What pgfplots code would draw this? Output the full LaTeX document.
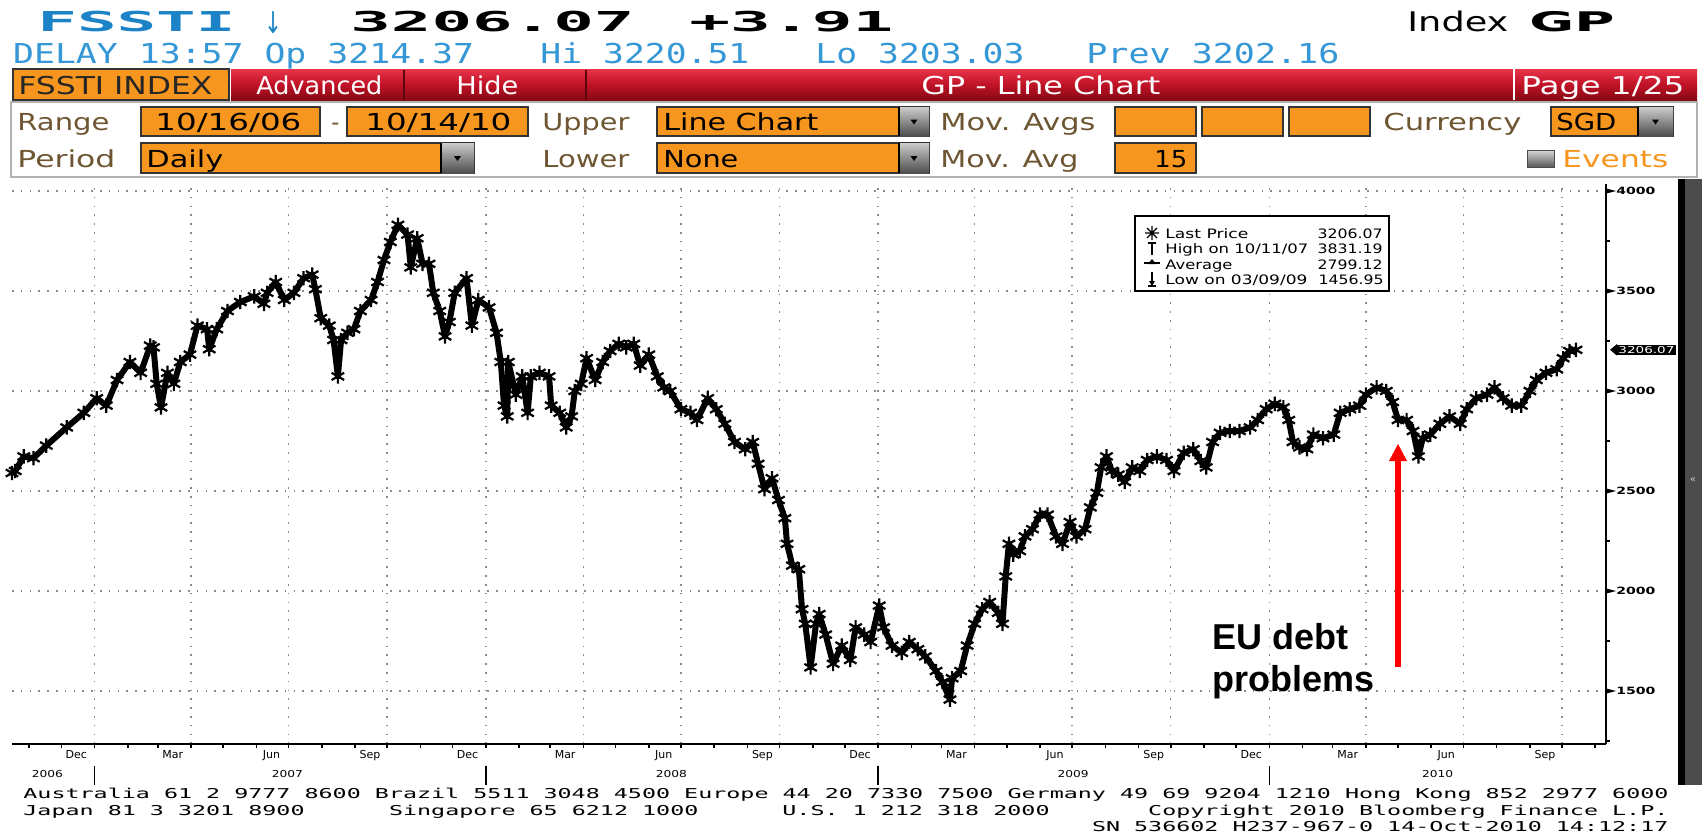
\documentclass[border=0pt]{standalone}
\usepackage{pgfplots}
\pgfplotsset{compat=1.18}
\usepackage{pgfplotstable}
\usepackage{graphicx}
\usepackage{fontspec}
\setmainfont{DejaVu Sans}
\newfontfamily\mono{DejaVu Sans Mono}
\newfontfamily\arial{Liberation Sans}
\definecolor{bbblue}{HTML}{1C84C6}
\definecolor{bbblue2}{HTML}{3597D6}
\definecolor{bborange}{HTML}{F7961F}
\definecolor{bblabel}{HTML}{6E5632}
\definecolor{gridgray}{HTML}{8A8A8A}
\definecolor{redtop}{HTML}{E8344A}
\definecolor{redmid}{HTML}{C01226}
\definecolor{redbot}{HTML}{860914}
\newcommand\tw[2]{\resizebox{#1pt}{\height}{#2}}
\newcommand\fs[1]{\fontsize{#1}{#1}\selectfont}

\pgfplotstableread{
day val
0 2590
3 2600
11 2673
20 2664
32 2727
51 2818
67 2891
79 2964
88 2927
98 3055
110 3145
120 3091
129 3227
132 3218
135 3036
139 2918
145 3091
151 3036
157 3145
166 3182
173 3327
182 3309
184 3209
191 3309
201 3400
213 3445
226 3473
235 3436
238 3491
246 3545
254 3455
263 3491
272 3564
280 3582
283 3509
288 3364
296 3327
300 3255
304 3073
307 3255
313 3291
319 3309
325 3400
335 3455
341 3545
347 3655
353 3745
360 3831
369 3782
372 3618
378 3764
383 3636
389 3636
393 3491
399 3400
404 3273
408 3345
413 3491
424 3564
429 3327
435 3455
445 3418
452 3291
456 3145
459 2927
462 2873
463 3145
470 2982
476 3073
481 2891
484 3073
492 3091
501 3073
503 2927
511 2891
517 2818
522 2873
525 3000
531 3036
536 3164
544 3055
551 3145
558 3200
566 3236
573 3218
580 3236
586 3127
594 3182
602 3073
608 3018
614 3000
624 2909
633 2891
639 2855
649 2964
657 2909
665 2836
674 2745
684 2709
691 2745
696 2636
702 2509
709 2564
715 2455
721 2364
723 2236
728 2127
734 2109
737 1909
740 1836
745 1618
750 1836
753 1885
759 1782
766 1636
774 1727
782 1655
787 1818
795 1782
801 1745
809 1927
813 1818
821 1727
830 1691
837 1745
845 1709
852 1673
862 1600
868 1545
875 1457
877 1564
885 1600
891 1727
898 1836
905 1909
912 1945
920 1891
924 1836
927 2073
930 2236
934 2182
940 2200
945 2273
952 2309
959 2382
966 2382
974 2273
980 2236
987 2345
993 2273
1001 2309
1006 2418
1012 2491
1016 2618
1021 2673
1026 2600
1032 2582
1038 2545
1045 2618
1052 2600
1059 2655
1068 2673
1077 2655
1084 2600
1093 2691
1102 2709
1109 2650
1114 2618
1120 2745
1127 2791
1136 2800
1145 2800
1155 2818
1162 2855
1170 2909
1178 2936
1186 2918
1191 2855
1195 2745
1201 2718
1208 2709
1214 2782
1223 2764
1233 2782
1239 2891
1248 2909
1257 2927
1263 2982
1273 3018
1282 3000
1288 2945
1293 2855
1301 2855
1307 2800
1312 2673
1316 2764
1323 2782
1332 2836
1341 2873
1351 2836
1357 2909
1366 2964
1376 2982
1383 3018
1391 2964
1399 2927
1408 2927
1416 3000
1422 3055
1431 3091
1441 3109
1447 3164
1453 3200
1459 3206
}\fssti

\newcommand\ob[4]{\draw[black!80,line width=0.8pt,fill=bborange] (#1,#2) rectangle (#3,#4);}
\newcommand\dd[4]{\shade[top color=gray!40,bottom color=black!70] (#1,#2) rectangle (#3,#4);
  \draw[black,line width=1.4pt] (#1,#2)--(#1,#4);
  \fill[black] ({(#1+#3)/2-3.5},{(#2+#4)/2-2}) -- ++(7,0) -- ++(-3.5,5) -- cycle;}
\newcommand\lab[4]{\node[anchor=base west,inner sep=0,text=bblabel] at (#1,#2) {\tw{#3}{\fs{11.7}#4}};}
\newcommand\btx[4]{\node[anchor=base west,inner sep=0,text=black] at (#1,#2) {\tw{#3}{\fs{11.7}#4}};}
\newcommand\ft[4]{\node[anchor=base west,inner sep=0,text=black] at (#1,#2) {\tw{#3}{\fs{6.8}\mono #4}};}
\newcommand\wt[4]{\node[anchor=base west,inner sep=0,text=white] at (#1,#2) {\tw{#3}{\fs{12.3}#4}};}
\newcommand\mlab[2]{\node[inner sep=0pt,anchor=north,yshift=-3pt,font=\fs{5.5}] at (axis cs:#1,1235) {#2};}
\newcommand\ylab[2]{\node[inner sep=0pt,anchor=center,yshift=-15pt] at (axis cs:#1,1235) {\tw{15.5}{\fs{4.8}#2}};}
\newcommand\ysep[1]{\draw[black,line width=0.8pt] (axis cs:#1,1235) ++(0pt,-11pt) -- ++(0pt,-9.5pt);}
\newcommand\ywedge[1]{\fill[black] (axis cs:1487,#1) ++(0pt,1.3pt) -- ++(5pt,-1.3pt) -- ++(-5pt,-1.3pt) -- cycle;}

\begin{document}
\begin{tikzpicture}
\path[use as bounding box,fill=white] (0,0) rectangle (851pt,-417.5pt);

\begin{axis}[
  at={(6pt,-372pt)}, anchor=south west,
  scale only axis, width=797pt, height=280pt,
  xmin=0, xmax=1487, ymin=1235, ymax=4035,
  clip=false,
  axis x line*=bottom, axis y line*=right,
  axis line style={line width=1.2pt, black},
  xtick={77,167,258,350,442,533,624,716,808,898,989,1081,1173,1263,1354,1446},
  xticklabels={},
  minor xtick={16,46,108,136,197,228,289,320,381,411,473,502,563,594,655,686,747,777,839,867,928,959,1020,1051,1112,1142,1204,1232,1293,1324,1385,1416,1477},
  ytick={1500,2000,2500,3000,3500,4000},
  minor ytick={1250,1750,2250,2750,3250,3750},
  scaled y ticks=false,
  xmajorgrids, ymajorgrids,
  grid style={gridgray, line width=0.7pt, dash pattern=on 0.8pt off 3.6pt},
  tick align=outside,
  major tick length=2pt, minor tick length=2pt,
  every tick/.style={black, line width=0.8pt},
  yticklabel pos=right,
  yticklabel style={anchor=west, inner sep=0pt, xshift=3pt},
  yticklabel={\tw{19.5}{\fs{5}\bfseries\pgfmathprintnumber[fixed,precision=0,1000 sep={},assume math mode=true]{\tick}}},
]
\addplot[black, line width=3pt, line join=round, mark=asterisk, mark size=3.6pt, mark options={line width=1.1pt, solid}] table[x=day,y=val] {\fssti};

\mlab{60}{Dec}\mlab{150}{Mar}\mlab{242}{Jun}\mlab{334}{Sep}
\mlab{425}{Dec}\mlab{516}{Mar}\mlab{608}{Jun}\mlab{700}{Sep}
\mlab{791}{Dec}\mlab{881}{Mar}\mlab{973}{Jun}\mlab{1065}{Sep}
\mlab{1156}{Dec}\mlab{1246}{Mar}\mlab{1338}{Jun}\mlab{1430}{Sep}
\ylab{33}{2006}\ylab{257}{2007}\ylab{615}{2008}\ylab{990}{2009}\ylab{1330}{2010}
\ysep{77}\ysep{442}\ysep{808}\ysep{1173}
\ywedge{1500}\ywedge{2000}\ywedge{2500}\ywedge{3000}\ywedge{3500}\ywedge{4000}
\fill[black] (axis cs:1487,3206) ++(2pt,0pt) -- ++(3.5pt,2.9pt) -- ++(0pt,-5.8pt) -- cycle;
\node[fill=black, text=white, inner xsep=1pt, inner ysep=0.7pt, anchor=west, xshift=5pt] at (axis cs:1487,3206) {\tw{28}{\fs{4.8}3206.07}};
\end{axis}

\begin{scope}[x=0.5pt,y=-0.5pt]
% header row 1
\node[anchor=base west,inner sep=0,text=bbblue] at (37,32) {\tw{99}{\fs{13.7}\mono\bfseries FSSTI}};
\node[anchor=base west,inner sep=0,text=bbblue] at (264,33) {\tw{9}{\fs{15}↓}};
\node[anchor=base west,inner sep=0,text=black] at (350,32) {\tw{142}{\fs{13.7}\mono\bfseries 3206.07}};
\node[anchor=base west,inner sep=0,text=black] at (689,32) {\tw{102}{\fs{13.7}\mono\bfseries +3.91}};
\node[anchor=base west,inner sep=0,text=black] at (1407,32) {\tw{50.5}{\fs{13.5}Index}};
\node[anchor=base west,inner sep=0,text=black] at (1529,32) {\tw{42.5}{\fs{13.5}\bfseries GP}};
% header row 2
\node[anchor=base west,inner sep=0,text=bbblue2] at (12.7,63) {\tw{230.5}{\fs{13.7}\mono DELAY 13:57 Op 3214.37}};
\node[anchor=base west,inner sep=0,text=bbblue2] at (540,63) {\tw{104.5}{\fs{13.7}\mono Hi 3220.51}};
\node[anchor=base west,inner sep=0,text=bbblue2] at (815,63) {\tw{104.5}{\fs{13.7}\mono Lo 3203.03}};
\node[anchor=base west,inner sep=0,text=bbblue2] at (1086,63) {\tw{126.5}{\fs{13.7}\mono Prev 3202.16}};
% toolbar
\shade[top color=redtop, bottom color=redbot, middle color=redmid] (231,69) rectangle (1697,100);
\draw[redbot!70!black, line width=1pt] (404,70)--(404,100) (586,70)--(586,100);
\draw[white, line width=1.2pt] (1514,69)--(1514,100);
\draw[black!80,line width=0.8pt,fill=bborange] (13,69) rectangle (229,100);
\node[anchor=base west,inner sep=0,text=black!85] at (18,94) {\tw{97}{\fs{12.3}FSSTI INDEX}};
\wt{256}{94}{63}{Advanced}
\wt{456}{94}{31}{Hide}
\wt{921}{94}{119.5}{GP - Line Chart}
\wt{1521}{94}{81.5}{Page 1/25}
% form panel
\draw[gray!60, line width=1.2pt, fill=white] (11,102) rectangle (1697,177);
\lab{17}{130}{46}{Range}
\ob{141}{107}{320}{136}\btx{155}{130}{73}{10/16/06}
\lab{331}{130}{4}{-}
\ob{347}{107}{528}{136}\btx{365}{130}{73}{10/14/10}
\lab{542}{130}{43.5}{Upper}
\ob{657}{107}{929}{136}\dd{899}{107}{929}{136}\btx{663}{130}{77.5}{Line Chart}
\lab{940}{130}{77.5}{Mov. Avgs}
\ob{1115}{107}{1196}{136}\ob{1202}{107}{1283}{136}\ob{1289}{107}{1370}{136}
\lab{1383}{130}{69}{Currency}
\ob{1551}{107}{1673}{136}\dd{1638}{107}{1673}{136}\btx{1556}{130}{30}{SGD}
\lab{17}{167}{49}{Period}
\ob{141}{143}{474}{173}\dd{441}{143}{474}{173}\btx{146}{167}{38.5}{Daily}
\lab{542}{167}{43.5}{Lower}
\ob{657}{143}{929}{173}\dd{899}{143}{929}{173}\btx{663}{167}{37.5}{None}
\lab{940}{167}{69}{Mov. Avg}
\ob{1115}{143}{1196}{173}\btx{1154}{167}{16.5}{15}
\shade[top color=gray!30, bottom color=black!65, draw=black!70] (1527,150) rectangle (1554,167);
\node[anchor=base west,inner sep=0,text=bborange] at (1562,167) {\tw{53}{\fs{11.7}Events}};
% right bar
\fill[black] (1678,179) rectangle (1685,785);
\fill[black!70] (1685,179) rectangle (1702,785);
\node[text=gray!40, inner sep=0] at (1693,480) {\fs{5}<<};
% legend
\draw[black, line width=1pt, fill=white] (1135,216) rectangle (1389,291);
\draw[line width=0.6pt] (1145,233)--(1159,233) (1152,226)--(1152,240) (1147,228)--(1157,238) (1147,238)--(1157,228);
\draw[line width=0.7pt] (1148,243)--(1156,243) (1152,243)--(1152,255);
\draw[line width=0.7pt] (1144,263)--(1160,263);
\fill (1148,264)--(1156,264)--(1152,259)--cycle;
\draw[line width=0.7pt] (1152,272)--(1152,285) (1148,286)--(1156,286);
\fill (1149,281)--(1155,281)--(1152,286)--cycle;
\node[anchor=base west,inner sep=0] at (1165,238) {\tw{41.5}{\fs{6.5}Last Price}};
\node[anchor=base west,inner sep=0] at (1165,253) {\tw{71.5}{\fs{6.5}High on 10/11/07}};
\node[anchor=base west,inner sep=0] at (1165,269) {\tw{33.5}{\fs{6.5}Average}};
\node[anchor=base west,inner sep=0] at (1165,284) {\tw{71}{\fs{6.5}Low on 03/09/09}};
\node[anchor=base east,inner sep=0] at (1383,238) {\tw{32.5}{\fs{6.5}3206.07}};
\node[anchor=base east,inner sep=0] at (1383,253) {\tw{32.5}{\fs{6.5}3831.19}};
\node[anchor=base east,inner sep=0] at (1383,269) {\tw{32.5}{\fs{6.5}2799.12}};
\node[anchor=base east,inner sep=0] at (1384,284) {\tw{32.5}{\fs{6.5}1456.95}};
% annotation
\draw[red, line width=2.6pt] (1398,667)--(1398,458);
\fill[red] (1389,461)--(1407,461)--(1398,444)--cycle;
\node[anchor=base west, inner sep=0] at (1212,649) {\arial\bfseries\fs{18}EU debt};
\node[anchor=base west, inner sep=0] at (1212,691) {\arial\bfseries\fs{18}problems};
% footer
\ft{23}{798}{822.5}{Australia 61 2 9777 8600 Brazil 5511 3048 4500 Europe 44 20 7330 7500 Germany 49 69 9204 1210 Hong Kong 852 2977 6000}
\ft{23}{815}{140.6}{Japan 81 3 3201 8900}
\ft{388.6}{815}{154.7}{Singapore 65 6212 1000}
\ft{782}{815}{133.6}{U.S. 1 212 318 2000}
\ft{1147.8}{815}{260.1}{Copyright 2010 Bloomberg Finance L.P.}
\ft{1091.6}{831}{288.2}{SN 536602 H237-967-0 14-Oct-2010 14:12:17}
\end{scope}
\end{tikzpicture}
\end{document}
